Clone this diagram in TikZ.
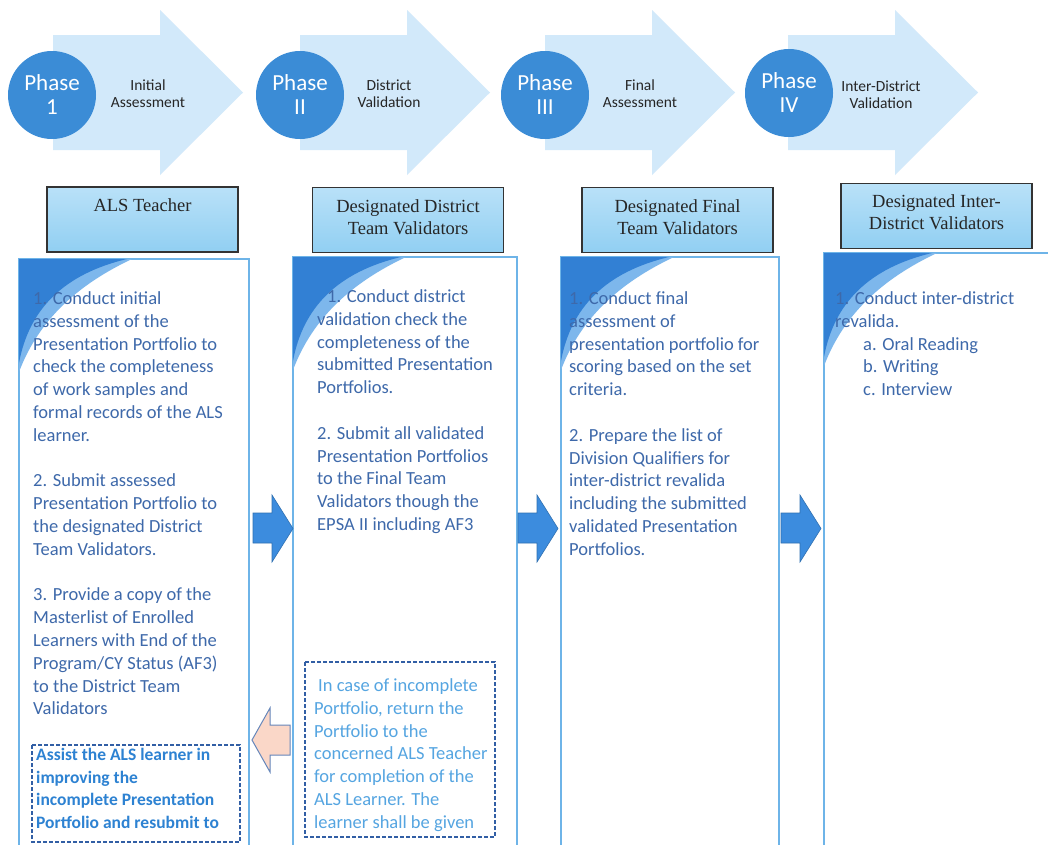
\documentclass[tikz,border=0pt]{standalone}
\usepackage{fontspec}
\setmainfont{Liberation Serif}
\setsansfont{Carlito}
\usetikzlibrary{positioning}

\definecolor{arrowbg}{RGB}{210,233,250}
\definecolor{phaseblue}{RGB}{59,140,214}
\definecolor{headtop}{RGB}{185,225,248}
\definecolor{headbot}{RGB}{145,207,242}
\definecolor{panelline}{RGB}{110,180,232}
\definecolor{stepblue}{RGB}{62,105,170}
\definecolor{notedark}{RGB}{45,130,210}
\definecolor{notelight}{RGB}{85,165,225}
\definecolor{dashblue}{RGB}{50,95,165}
\definecolor{cornerdark}{RGB}{50,128,212}
\definecolor{cornerlight}{RGB}{125,183,236}
\definecolor{backpink}{RGB}{250,215,200}
\definecolor{fwdblue}{RGB}{60,140,222}

\tikzset{
  phase/.style={circle, fill=phaseblue, minimum size=88pt, inner sep=0pt,
    text=white, align=center, font=\sffamily\fontsize{23}{24}\selectfont},
  phaselabel/.style={align=center, text=black!85,
    font=\sffamily\fontsize{15.5}{17.5}\selectfont},
  rolebox/.style={draw=black!80, line width=1.5pt, top color=headtop,
    bottom color=headbot, minimum width=191pt, minimum height=65pt},
  roletext/.style={align=center, inner sep=0pt, text=black!85,
    font=\fontsize{18.5}{22}\selectfont},
  steptext/.style={align=left, inner sep=0pt, anchor=north west, text=stepblue,
    font=\sffamily\fontsize{18.5}{22.8}\selectfont},
  notebox/.style={draw=dashblue, line width=1.4pt, dash pattern=on 4pt off 2pt},
  panel/.style={draw=panelline, line width=1.2pt, fill=white}
}

\begin{document}
\begin{tikzpicture}[x=1pt,y=-1pt]
\clip (0,0) rectangle (1048,844);
\fill[white] (0,0) rectangle (1048,844);

% phase arrows
\foreach \x in {53,300,545,788}
  \fill[arrowbg] (\x,35) -- (\x+107,35) -- (\x+107,10) -- (\x+190,92.5)
    -- (\x+107,175) -- (\x+107,150) -- (\x,150) -- cycle;

\node[phase] (phaseA) at (52,95) {Phase\\1};
\node[phase] (phaseB) at (300,95) {Phase\\II};
\node[phase] (phaseC) at (545,95) {Phase\\III};
\node[phase] (phaseD) at (789,93) {Phase\\IV};

\node[phaselabel] (labelA) at (148,93.5) {Initial\\Assessment};
\node[phaselabel] (labelB) at (389,93.5) {District\\Validation};
\node[phaselabel] (labelC) at (640,93.5) {Final\\Assessment};
\node[phaselabel] (labelD) at (881,94.5) {Inter-District\\Validation};

% role headers
\node[rolebox] (roleA) at (142.5,219.5) {};
\node[rolebox] (roleB) at (408,220) {};
\node[rolebox] (roleC) at (677.5,220) {};
\node[rolebox] (roleD) at (936.5,216) {};
\node[roletext, anchor=north, below=12pt of roleA.north] (titleA) {ALS Teacher};
\node[roletext, anchor=north, below=13pt of roleB.north] (titleB) {Designated District\\Team Validators};
\node[roletext, anchor=north, below=13pt of roleC.north] (titleC) {Designated Final\\Team Validators};
\node[roletext, anchor=north, below=12pt of roleD.north] (titleD) {Designated Inter-\\District Validators};

% panels with corner marks
\foreach \l/\t/\r in {19/259/249, 293/257/517, 561/257/779, 824/253/1060}{
  \draw[panel] (\l,\t) rectangle (\r,860);
  \fill[cornerlight] (\l,\t) -- (\l+113,\t) .. controls (\l+60,\t+25) and (\l+20,\t+60) .. (\l,\t+113) -- cycle;
  \fill[cornerdark] (\l,\t) -- (\l+108,\t) .. controls (\l+45,\t+15) and (\l+10,\t+50) .. (\l,\t+104) -- cycle;
}

% panel texts
\node[steptext] (stepsA) at (33,291.5) {1. Conduct initial\\assessment of the\\Presentation Portfolio to\\check the completeness\\of work samples and\\formal records of the ALS\\learner.\\[22.8pt]2. Submit assessed\\Presentation Portfolio to\\the designated District\\Team Validators.\\[22.8pt]3. Provide a copy of the\\Masterlist of Enrolled\\Learners with End of the\\Program/CY Status (AF3)\\to the District Team\\Validators};
\node[steptext] (stepsB) at (317,289.5) {\hspace*{10pt}1. Conduct district\\validation check the\\completeness of the\\submitted Presentation\\Portfolios.\\[22.8pt]2. Submit all validated\\Presentation Portfolios\\to the Final Team\\Validators though the\\EPSA II including AF3};
\node[steptext] (stepsC) at (569,291.5) {1. Conduct final\\assessment of\\presentation portfolio for\\scoring based on the set\\criteria.\\[22.8pt]2. Prepare the list of\\Division Qualifiers for\\inter-district revalida\\including the submitted\\validated Presentation\\Portfolios.};
\node[steptext] (stepsD) at (835,291.5) {1. Conduct inter-district\\revalida.\\\hspace*{28pt}a. Oral Reading\\\hspace*{28pt}b. Writing\\\hspace*{28pt}c. Interview};

% return notes
\draw[notebox] (32,745) rectangle (240,842);
\node[steptext, text=notedark, font=\sffamily\bfseries\fontsize{17.5}{22.4}\selectfont] (noteA) at (36,748.5) {Assist the ALS learner in\\improving the\\incomplete Presentation\\Portfolio and resubmit to};
\draw[notebox] (305,662) rectangle (495,837);
\node[steptext, text=notelight] (noteB) at (314,678.5) {\hspace*{4pt}In case of incomplete\\Portfolio, return the\\Portfolio to the\\concerned ALS Teacher\\for completion of the\\ALS Learner. The\\learner shall be given};

% flow arrows
\foreach \x in {253,518,781}
  \draw[fwdblue!80!black, fill=fwdblue, line width=0.6pt] (\x,513) -- (\x+19,513) -- (\x+19,495) -- (\x+40,528.5)
    -- (\x+19,562) -- (\x+19,543) -- (\x,543) -- cycle;
\draw[fill=backpink, draw=stepblue!80, line width=1pt] (252,740) -- (270,708) -- (270,725) -- (290,725)
  -- (290,755) -- (270,755) -- (270,772) -- cycle;
\end{tikzpicture}
\end{document}
